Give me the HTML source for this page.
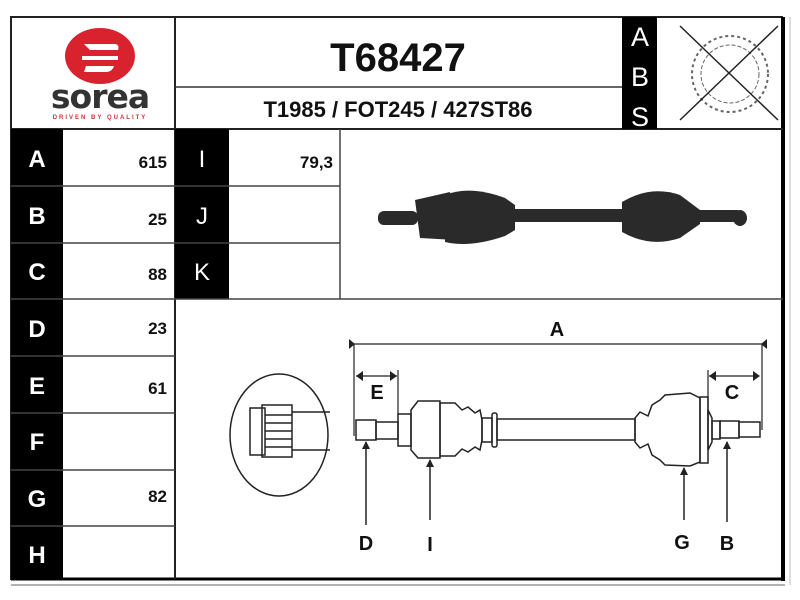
<!DOCTYPE html>
<html><head><meta charset="utf-8"><style>
html,body{margin:0;padding:0;background:#fff;}
svg{display:block;}
text{font-family:"Liberation Sans",Arial,sans-serif;font-weight:bold;}
</style></head><body>
<svg width="800" height="600" viewBox="0 0 800 600" xmlns="http://www.w3.org/2000/svg">
<rect width="800" height="600" fill="#fff"/>
<rect x="11" y="17" width="771" height="562" fill="none" stroke="#222" stroke-width="2"/>
<line x1="783" y1="17" x2="783" y2="581" stroke="#000" stroke-width="4"/>
<line x1="11" y1="579" x2="785" y2="579" stroke="#000" stroke-width="3"/>
<line x1="11" y1="585" x2="785" y2="585" stroke="#999" stroke-width="1.5"/>
<line x1="790" y1="17" x2="790" y2="585" stroke="#bbb" stroke-width="1"/>
<line x1="11" y1="129" x2="783" y2="129" stroke="#222" stroke-width="2"/>
<line x1="175" y1="17" x2="175" y2="579" stroke="#222" stroke-width="2"/>
<line x1="175" y1="87" x2="622" y2="87" stroke="#333" stroke-width="1.5"/>
<rect x="622" y="17" width="35" height="112" fill="#000"/>
<text x="640" y="46" font-size="27" fill="#fff" text-anchor="middle" style="font-weight:normal">A</text>
<text x="640" y="86" font-size="27" fill="#fff" text-anchor="middle" style="font-weight:normal">B</text>
<text x="640" y="126" font-size="27" fill="#fff" text-anchor="middle" style="font-weight:normal">S</text>
<text x="398" y="71" font-size="40" text-anchor="middle" fill="#111">T68427</text>
<text x="398" y="117" font-size="22" text-anchor="middle" fill="#111">T1985 / FOT245 / 427ST86</text>
<circle cx="730" cy="74" r="38" fill="none" stroke="#666" stroke-width="2" stroke-dasharray="3,3"/>
<circle cx="730" cy="74" r="29" fill="none" stroke="#666" stroke-width="1" stroke-dasharray="4,2"/>
<line x1="680" y1="26" x2="778" y2="120" stroke="#222" stroke-width="1.5"/>
<line x1="778" y1="26" x2="680" y2="120" stroke="#222" stroke-width="1.5"/>
<ellipse cx="100" cy="56" rx="35" ry="28" fill="#d8232f"/>
<path d="M84 44 h30 q6 0 4 6 h-28 z M82 56 h36 v4 h-36 z M86 66 h28 q-2 6 -8 6 h-22 z" fill="#fff"/>
<text x="100" y="108" font-size="33" text-anchor="middle" fill="#333" style="font-family:'DejaVu Sans',sans-serif;font-weight:bold" letter-spacing="-1">sorea</text>
<text x="100" y="119" font-size="6" text-anchor="middle" fill="#c33" letter-spacing="2">DRIVEN BY QUALITY</text>
<rect x="11" y="129" width="52" height="450" fill="#000"/>
<rect x="175" y="129" width="54" height="170" fill="#000"/>
<g stroke="#444" stroke-width="1.5">
<line x1="11" y1="186" x2="340" y2="186"/><line x1="11" y1="243" x2="340" y2="243"/>
<line x1="11" y1="299" x2="783" y2="299"/><line x1="11" y1="356" x2="175" y2="356"/>
<line x1="11" y1="413" x2="175" y2="413"/><line x1="11" y1="470" x2="175" y2="470"/>
<line x1="11" y1="526" x2="175" y2="526"/>
<line x1="340" y1="129" x2="340" y2="299"/>
</g>
<g fill="#fff" font-size="24" text-anchor="middle">
<text x="37" y="167">A</text><text x="37" y="224">B</text><text x="37" y="280">C</text>
<text x="37" y="337">D</text><text x="37" y="394">E</text><text x="37" y="450">F</text>
<text x="37" y="507">G</text><text x="37" y="563">H</text>
<text x="202" y="167" style="font-weight:normal">I</text><text x="202" y="224" style="font-weight:normal">J</text><text x="202" y="280" style="font-weight:normal">K</text>
</g>
<g fill="#111" font-size="17" text-anchor="end">
<text x="167" y="168">615</text><text x="167" y="225">25</text><text x="167" y="280">88</text>
<text x="167" y="334">23</text><text x="167" y="394">61</text><text x="167" y="502">82</text>
<text x="333" y="168">79,3</text>
</g>
<g fill="#2a2a2a">
<rect x="378" y="211" width="40" height="14" rx="6"/>
<path d="M415 200 L450 192 L455 240 L420 238 Z"/>
<path d="M445 195 Q470 185 505 198 L515 205 L515 230 L505 236 Q470 248 445 242 Z"/>
<rect x="512" y="209" width="120" height="13"/>
<path d="M622 202 Q650 185 680 195 L700 210 L700 224 L680 238 Q650 248 622 232 Z"/>
<rect x="698" y="210" width="40" height="12"/>
<ellipse cx="740" cy="218" rx="7" ry="8"/>
</g>
<g fill="none" stroke="#222" stroke-width="1.5">
<ellipse cx="279" cy="435" rx="49" ry="61"/>
<rect x="250" y="408" width="15" height="47"/>
<rect x="262" y="405" width="30" height="52"/>
<line x1="292" y1="412" x2="330" y2="412"/><line x1="292" y1="450" x2="330" y2="450"/>
<line x1="265" y1="415" x2="292" y2="415"/><line x1="265" y1="423" x2="292" y2="423"/><line x1="265" y1="431" x2="292" y2="431"/><line x1="265" y1="439" x2="292" y2="439"/><line x1="265" y1="447" x2="292" y2="447"/>
<line x1="350" y1="344" x2="766" y2="344" stroke-width="1.2"/>
<line x1="354" y1="344" x2="354" y2="436" stroke-width="1.2"/>
<line x1="762" y1="344" x2="762" y2="430" stroke-width="1.2"/>
<line x1="356" y1="376" x2="397" y2="376" stroke-width="1.2"/>
<line x1="398" y1="370" x2="398" y2="415" stroke-width="1.2"/>
<line x1="709" y1="376" x2="759" y2="376" stroke-width="1.2"/>
<line x1="708" y1="370" x2="708" y2="420" stroke-width="1.2"/>
<rect x="356" y="420" width="20" height="20"/>
<rect x="376" y="422" width="22" height="17"/>
<rect x="398" y="414" width="13" height="32"/>
<path d="M411 410 L418 401 L440 401 L440 458 L418 458 L411 450 Z"/>
<path d="M440 403 L455 403 L462 410 L468 407 L475 413 L480 410 L482 420 L482 440 L480 450 L475 447 L468 452 L462 449 L455 456 L440 456 Z"/>
<rect x="482" y="418" width="10" height="24"/>
<rect x="492" y="413" width="5" height="34" rx="2"/>
<rect x="497" y="419" width="138" height="21"/>
<path d="M635 418 L640 412 L648 416 L652 405 L660 400 L665 395 L690 393 L700 398 L700 462 L690 466 L665 465 L660 460 L652 455 L648 444 L640 448 L635 442 Z"/>
<rect x="700" y="397" width="8" height="66"/>
<path d="M708 410 L712 418 L712 442 L708 450 Z"/>
<rect x="712" y="421" width="8" height="18"/>
<rect x="720" y="421" width="19" height="17"/>
<rect x="739" y="422" width="21" height="15"/>
<line x1="366" y1="442" x2="366" y2="525"/>
<line x1="430" y1="460" x2="430" y2="520"/>
<line x1="684" y1="468" x2="684" y2="520"/>
<line x1="727" y1="442" x2="727" y2="522"/>
</g>
<g fill="#222">
<path d="M349 339 L355 344 L349 349 Z"/><path d="M767 339 L761 344 L767 349 Z"/>
<path d="M356 376 L363 371 L363 381 Z"/><path d="M397 376 L390 371 L390 381 Z"/>
<path d="M709 376 L716 371 L716 381 Z"/><path d="M760 376 L753 371 L753 381 Z"/>
<path d="M366 441 L362 449 L370 449 Z"/><path d="M430 459 L426 467 L434 467 Z"/>
<path d="M684 467 L680 475 L688 475 Z"/><path d="M727 441 L723 449 L731 449 Z"/>
</g>
<g font-size="20" fill="#111" text-anchor="middle">
<text x="557" y="336">A</text>
<text x="377" y="399">E</text><text x="732" y="399">C</text>
<text x="366" y="550">D</text><text x="430" y="551">I</text>
<text x="682" y="549">G</text><text x="727" y="550">B</text>
</g>
</svg>
</body></html>
